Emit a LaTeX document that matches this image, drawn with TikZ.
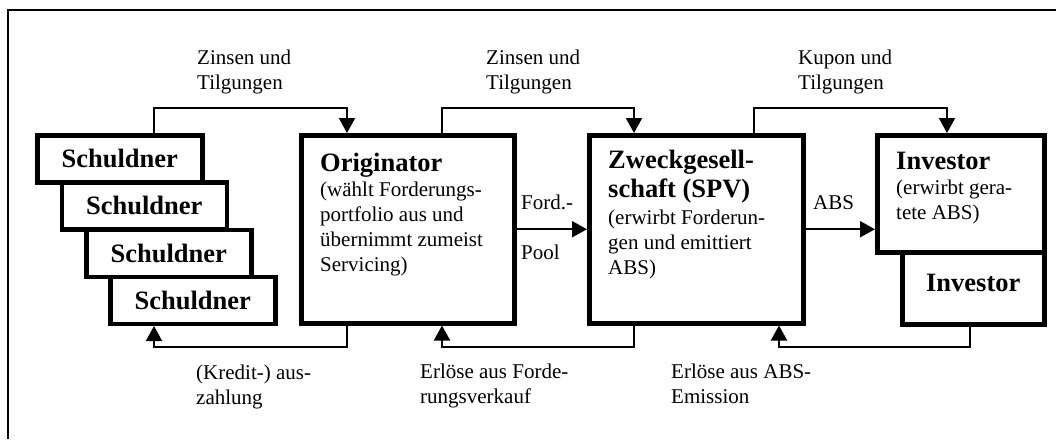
\documentclass[tikz,border=0pt]{standalone}
\usepackage{fontspec}
\setmainfont{Liberation Serif}
\usetikzlibrary{arrows.meta}
\usetikzlibrary{positioning}
\newcommand\boxhead{\bfseries\fontsize{26.5}{29}\selectfont}

\begin{document}
\begin{tikzpicture}[x=1pt,y=-1pt,font=\fontsize{21}{25}\selectfont,
  party/.style={draw,line width=4.5pt,fill=white,inner sep=0pt,anchor=north west},
  debtor/.style={party,minimum width=165pt,minimum height=47pt,font=\boxhead},
  txt/.style={inner sep=0pt,align=left,anchor=north west},
  flow/.style={line width=2pt,-{Triangle[width=16pt,length=15pt]}}]
  \useasboundingbox (0,0) rectangle (1056,439);
  \draw[line width=2pt] (8,439) -- (8,10) -- (1056,10);
  \node[debtor] (s1) at (35,133) {Schuldner};
  \node[debtor] (s2) at (59.5,180) {Schuldner};
  \node[debtor] (s3) at (84,227.5) {Schuldner};
  \node[debtor] (s4) at (108,274.5) {Schuldner};
  \node[party,minimum width=213pt,minimum height=188pt] (orig) at (299,133) {};
  \node[party,minimum width=214pt,minimum height=188pt] (spv) at (587,133) {};
  \node[party,minimum width=167pt,minimum height=117pt] (inv1) at (875,133) {};
  \node[party,minimum width=142pt,minimum height=72pt,font=\boxhead,text depth=10pt] (inv2) at (900,250) {Investor};
  \node[txt,below right=20pt and 21pt of orig.north west] (origtxt) {{\boxhead Originator}\\(wählt Forderungs-\\portfolio aus und\\übernimmt zumeist\\Servicing)};
  \node[txt,below right=17pt and 21pt of spv.north west] (spvtxt) {{\boxhead Zweckgesell-}\\[4pt]{\boxhead schaft (SPV)}\\[2pt](erwirbt Forderun-\\gen und emittiert\\ABS)};
  \node[txt,below right=19pt and 21pt of inv1.north west] (invtxt) {{\boxhead Investor}\\(erwirbt gera-\\tete ABS)};
  \coordinate (r1a) at (154,108); \coordinate (r1b) at (347,108);
  \coordinate (r2a) at (442,108); \coordinate (r2b) at (634,108);
  \coordinate (r3a) at (754,108); \coordinate (r3b) at (947,108);
  \coordinate (b1a) at (154,347); \coordinate (b1b) at (347,347);
  \coordinate (b2a) at (442,347); \coordinate (b2b) at (634,347);
  \coordinate (b3a) at (779,347); \coordinate (b3b) at (970,347);
  \draw[flow] (s1.north -| r1a) |- (r1b) -- (orig.north -| r1b);
  \draw[flow] (orig.north -| r2a) |- (r2b) -- (spv.north -| r2b);
  \draw[flow] (spv.north -| r3a) |- (r3b) -- (inv1.north -| r3b);
  \draw[flow] (orig.south -| b1b) |- (b1a) -- (s4.south -| b1a);
  \draw[flow] (spv.south -| b2b) |- (b2a) -- (orig.south -| b2a);
  \draw[flow] (inv2.south -| b3b) |- (b3a) -- (spv.south -| b3a);
  \draw[flow] (orig.east) -- (spv.west);
  \draw[flow] (spv.east) -- (spv.east -| inv1.west);
  \node[txt] (lzins1) at (197,50) {Zinsen und\\Tilgungen};
  \node[txt] (lzins2) at (486,50) {Zinsen und\\Tilgungen};
  \node[txt] (lkupon) at (798,50) {Kupon und\\Tilgungen};
  \node[txt] (lkredit) at (196,365) {(Kredit-) aus-\\zahlung};
  \node[txt] (lverkauf) at (420,364) {Erlöse aus Forde-\\rungsverkauf};
  \node[txt] (lemission) at (671,364) {Erlöse aus ABS-\\Emission};
  \node[txt] (lford) at (521,195) {Ford.-};
  \node[txt] (lpool) at (521,245) {Pool};
  \node[txt] (labs) at (813,195) {ABS};
\end{tikzpicture}
\end{document}
